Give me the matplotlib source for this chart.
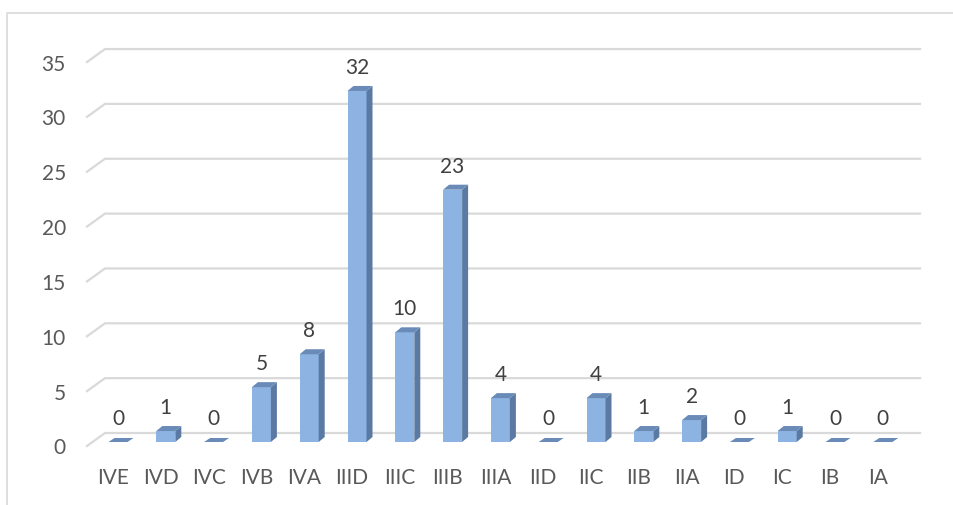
import numpy as np
import matplotlib.pyplot as plt
from matplotlib.patches import Polygon
from matplotlib.lines import Line2D

plt.rcParams['font.family'] = ['Lato', 'DejaVu Sans']

categories = ['IVE', 'IVD', 'IVC', 'IVB', 'IVA', 'IIID', 'IIIC', 'IIIB', 'IIIA',
              'IID', 'IIC', 'IIB', 'IIA', 'ID', 'IC', 'IB', 'IA']
values = [0, 1, 0, 5, 8, 32, 10, 23, 4, 0, 4, 1, 2, 0, 1, 0, 0]
yticks = [0, 5, 10, 15, 20, 25, 30, 35]

W, H = 954, 506
# pixel mapping: category i -> 118 + 47.8 i ; value v -> 443 - 10.97 v (from top)
PX_CAT, PX_VAL = 47.8, 10.97
X0, Y0 = 118, 443

fig = plt.figure(figsize=(W / 100, H / 100), dpi=100, facecolor='white')
ax = fig.add_axes([0, 0, 1, 1])
ax.set_xlim(-X0 / PX_CAT, (W - X0) / PX_CAT)
ax.set_ylim(-(H - Y0) / PX_VAL, Y0 / PX_VAL)
ax.axis('off')

front_c = '#8DB3E2'
side_c = '#5A7AA3'
top_c = '#6A8AB8'
grid_c = '#D9D9D9'
fs = 15

bw = 19 / PX_CAT
dx = 6 / PX_CAT
dy = 5 / PX_VAL

# gridlines with 3d floor/wall offset
x_front, x_back, x_right = -0.649, -0.272, (920 - X0) / PX_CAT
for v in yticks:
    yb = v + 9 / PX_VAL
    yf = v - 4 / PX_VAL
    ax.plot([x_front, x_back, x_right], [yf, yb, yb], color=grid_c, lw=1.6,
            solid_joinstyle='miter', zorder=1)
    ax.text(-1.09, v - 0.5, str(v), ha='right', va='center', fontsize=fs,
            color='#595959')

for i, (c, v) in enumerate(zip(categories, values)):
    l, r = i - bw / 2, i + bw / 2
    if v > 0:
        ax.add_patch(Polygon([(l, 0), (r, 0), (r, v), (l, v)], closed=True,
                             fc=front_c, ec='none', zorder=3))
        ax.add_patch(Polygon([(r, 0), (r + dx, dy), (r + dx, v + dy), (r, v)],
                             closed=True, fc=side_c, ec='none', zorder=3))
    top_dy = dy if v > 0 else 4 / PX_VAL
    ax.add_patch(Polygon([(l, v), (r, v), (r + dx, v + top_dy), (l + dx, v + top_dy)],
                         closed=True, fc=top_c, ec='none', zorder=3))
    ax.text(i, v + 2.2, str(v), ha='center', va='center', fontsize=fs,
            color='#404040', zorder=4)
    ax.text(i - 5 / PX_CAT, -3.19, c, ha='center', va='center', fontsize=fs,
            color='#595959')

# chart frame (partial, as in the screenshot)
fig.add_artist(Line2D([7 / W, 7 / W, 1], [0, 1 - 14 / H, 1 - 14 / H],
                      transform=fig.transFigure, color=grid_c, lw=1.2))

fig.savefig('out.png', dpi=100, facecolor='white')
